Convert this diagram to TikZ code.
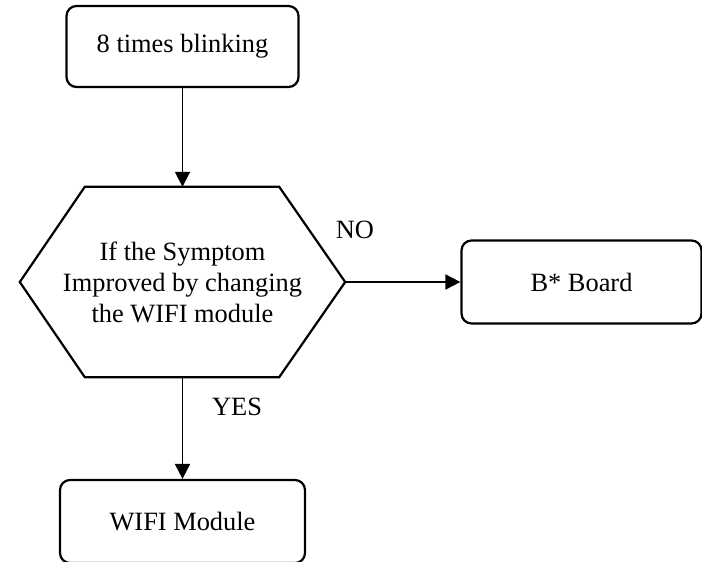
\documentclass[tikz,border=0pt]{standalone}
\usepackage{fontspec}
\setmainfont{Liberation Serif}
\usetikzlibrary{arrows.meta,positioning}
\tikzset{
  px/.style={x=1pt, y=-1pt, font=\fontsize{26.4}{31}\selectfont},
  f box/.style={draw, line width=2.2pt, rounded corners=10pt, align=center, inner sep=0pt},
  f test/.style={align=center, inner sep=0pt, minimum width=325pt, minimum height=190pt},
  f hex/.style={line width=2.2pt, line join=miter},
  f lbl/.style={inner sep=0pt},
  f arr/.style={-{Triangle[length=15pt,width=15pt]}, line width=1.8pt},
}
\begin{document}
\begin{tikzpicture}[px]
\useasboundingbox (0,0) rectangle (702,562);
% ---- boxes ----
\node[f box, minimum width=232pt, minimum height=81pt] (blink) at (182.5,46.5) {8 times blinking};
\node[f test] (test) at (182.5,282) {If the Symptom\\Improved by changing\\the WIFI module};
\draw[f hex] (test.west) -- ([xshift=65pt]test.north west) -- ([xshift=-66pt]test.north east) -- (test.east)
  -- ([xshift=-66pt]test.south east) -- ([xshift=65pt]test.south west) -- cycle;
\node[f box, minimum width=240pt, minimum height=83pt] (board) at (581.5,282) {B* Board};
\node[f box, minimum width=245pt, minimum height=83pt] (wifi) at (182.5,521.5) {WIFI Module};
% ---- labels ----
\node[f lbl] (no) at (355,230) {NO};
\node[f lbl] (yes) at (237,407) {YES};
% ---- arrows ----
\draw[f arr] (blink.south) -- (test.north);
\draw[f arr] (test.east) -- (board.west);
\draw[f arr] (test.south) -- (wifi.north);
\end{tikzpicture}
\end{document}
